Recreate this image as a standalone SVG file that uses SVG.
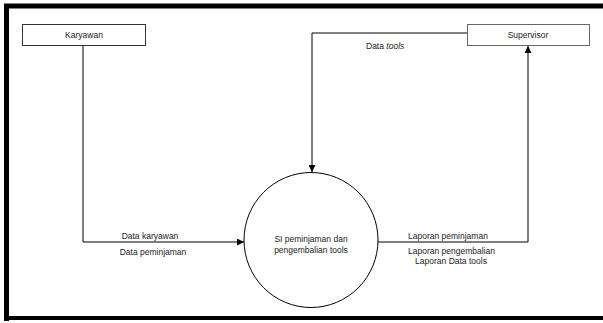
<svg xmlns="http://www.w3.org/2000/svg" width="603" height="323" viewBox="0 0 603 323">
<style>
.t{font-family:"Liberation Sans",Arial,sans-serif;font-size:8.5px;fill:#222}
.box{fill:#fff;stroke-width:1}
.ln{fill:none;stroke:#000;stroke-width:1}
</style>
<defs>
<marker id="ar" viewBox="0 0 10 10" refX="10" refY="5" markerWidth="7" markerHeight="7" markerUnits="userSpaceOnUse" orient="auto">
<path d="M0,0 L10,5 L0,10 z" fill="#000"/>
</marker>
</defs>
<rect x="0" y="0" width="603" height="323" fill="#fff"/>
<path d="M6.5,321 V6 H603" fill="none" stroke="#000" stroke-width="5"/>
<line x1="4" y1="318" x2="603" y2="318" stroke="#000" stroke-width="4"/>
<g id="connectors">
<path class="ln" d="M83,45 V242 H244" marker-end="url(#ar)"/>
<path class="ln" d="M467,33 H312 V172" stroke="#333" marker-end="url(#ar)"/>
<path class="ln" d="M378,242 H528"/>
<path class="ln" d="M528,242 V46" stroke="#777" stroke-width="1.5" marker-end="url(#ar)"/>
<text class="t" x="150" y="239" text-anchor="middle">Data karyawan</text>
<text class="t" x="153" y="255" text-anchor="middle">Data peminjaman</text>
<text class="t" x="366" y="49">Data <tspan font-style="italic">tools</tspan></text>
<text class="t" x="408" y="239">Laporan peminjaman</text>
<text class="t" x="408" y="254">Laporan pengembalian</text>
<text class="t" x="451" y="264" text-anchor="middle">Laporan Data tools</text>
</g>
<g id="karyawan">
<rect class="box" x="22.5" y="24.5" width="123" height="21" stroke="#333"/>
<text class="t" x="84" y="38" text-anchor="middle">Karyawan</text>
</g>
<g id="supervisor">
<rect class="box" x="467.5" y="24.5" width="122" height="21" stroke="#666"/>
<text class="t" x="528" y="38" text-anchor="middle">Supervisor</text>
</g>
<g id="process">
<ellipse cx="311" cy="240" rx="67" ry="67.5" fill="#fff" stroke="#000" stroke-width="1"/>
<text class="t" x="311" y="242" text-anchor="middle">SI peminjaman dan</text>
<text class="t" x="311" y="253" text-anchor="middle">pengembalian tools</text>
</g>
</svg>
